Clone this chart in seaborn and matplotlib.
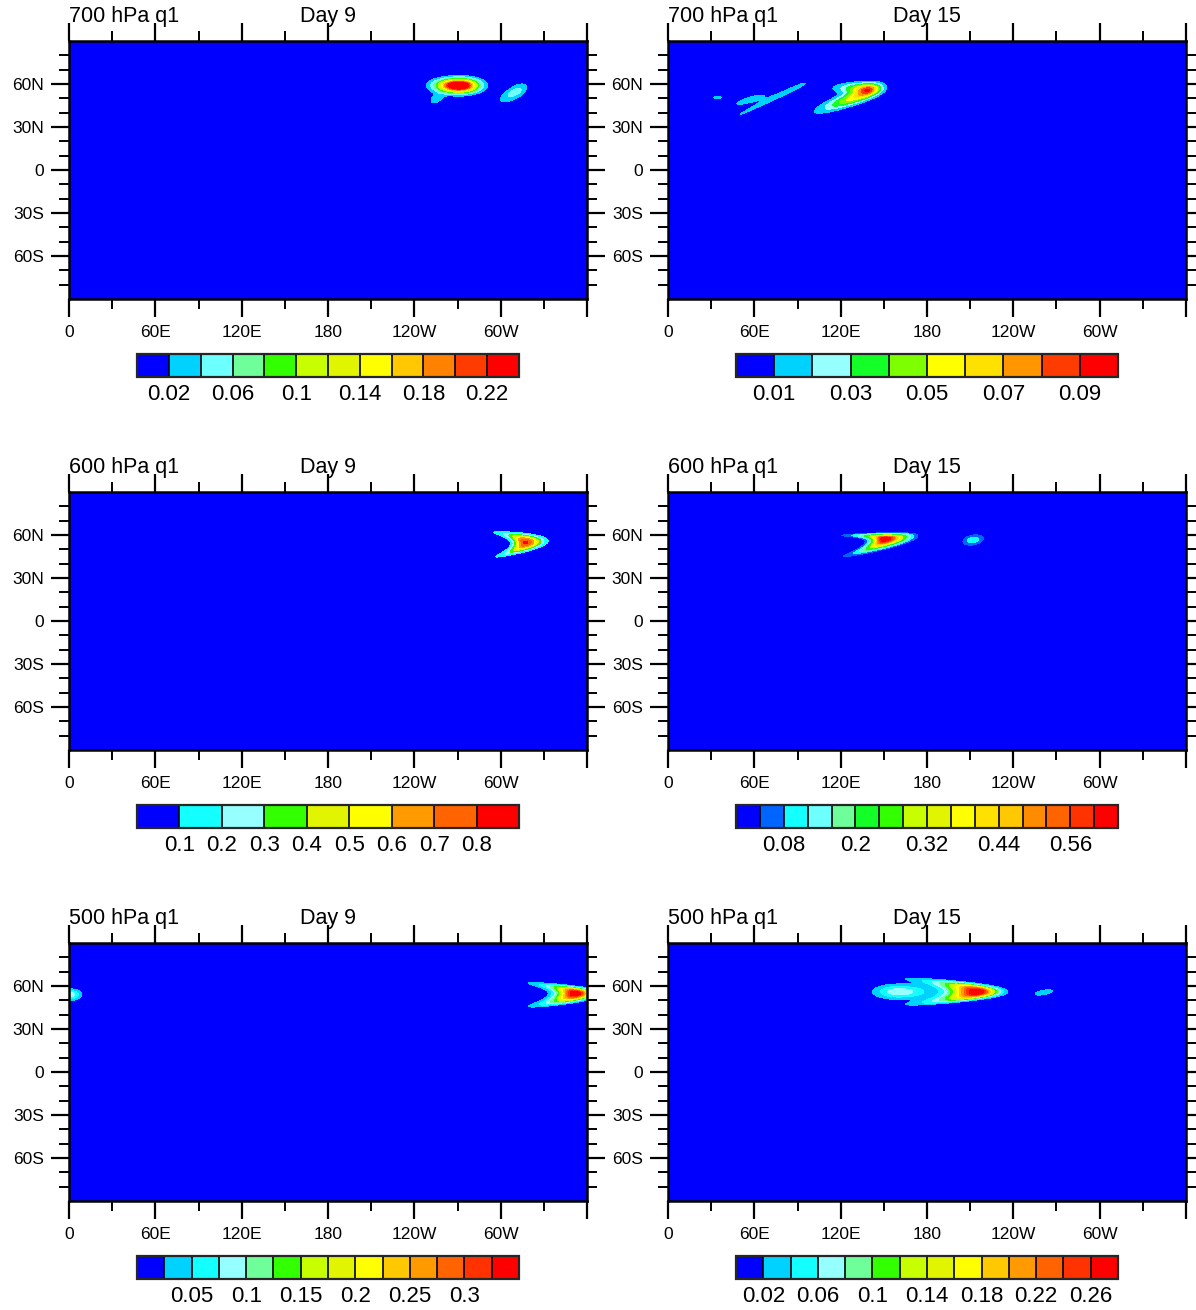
import numpy as np
import matplotlib
matplotlib.use("Agg")
import matplotlib.pyplot as plt
import seaborn as sns

sns.set_theme(style="ticks")
plt.rcParams["font.family"] = ["Liberation Sans", "DejaVu Sans"]
plt.rcParams["text.color"] = "black"
plt.rcParams["axes.labelcolor"] = "black"
plt.rcParams["xtick.color"] = "black"
plt.rcParams["ytick.color"] = "black"

# ---------------------------------------------------------------- data
titles_left = ["700 hPa q1", "700 hPa q1", "600 hPa q1", "600 hPa q1", "500 hPa q1", "500 hPa q1"]
titles_center = ["Day 9", "Day 15", "Day 9", "Day 15", "Day 9", "Day 15"]

# contour boundaries per panel
levels_700_d9 = [0.02, 0.04, 0.06, 0.08, 0.10, 0.12, 0.14, 0.16, 0.18, 0.20, 0.22]
levels_700_d15 = [0.01, 0.02, 0.03, 0.04, 0.05, 0.06, 0.07, 0.08, 0.09]
levels_600_d9 = [0.1, 0.2, 0.3, 0.4, 0.5, 0.6, 0.7, 0.8]
levels_600_d15 = [0.04, 0.08, 0.12, 0.16, 0.20, 0.24, 0.28, 0.32, 0.36, 0.40,
                  0.44, 0.48, 0.52, 0.56, 0.60]
levels_500_d9 = [0.025, 0.05, 0.075, 0.1, 0.125, 0.15, 0.175, 0.2, 0.225, 0.25,
                 0.275, 0.3, 0.325]
levels_500_d15 = [0.02, 0.04, 0.06, 0.08, 0.10, 0.12, 0.14, 0.16, 0.18, 0.20,
                  0.22, 0.24, 0.26]

# labelled colorbar values
cb_labels_700_d9 = ["0.02", "0.06", "0.1", "0.14", "0.18", "0.22"]
cb_labels_700_d15 = ["0.01", "0.03", "0.05", "0.07", "0.09"]
cb_labels_600_d9 = ["0.1", "0.2", "0.3", "0.4", "0.5", "0.6", "0.7", "0.8"]
cb_labels_600_d15 = ["0.08", "0.2", "0.32", "0.44", "0.56"]
cb_labels_500_d9 = ["0.05", "0.1", "0.15", "0.2", "0.25", "0.3"]
cb_labels_500_d15 = ["0.02", "0.06", "0.1", "0.14", "0.18", "0.22", "0.26"]

# fill colours per panel
colors_700_d9 = ["#0000FF", "#00D2FF", "#6EFFFF", "#6EFF9B", "#32FF00", "#C8FF00",
                 "#E1F500", "#FFFF00", "#FFC800", "#FF8200", "#FF3C00", "#FF0000"]
colors_700_d15 = ["#0000FF", "#00D2FF", "#96FFFF", "#14FF28", "#7DFF00", "#FFFF00",
                  "#FFE100", "#FF9600", "#FF3C00", "#FF0000"]
colors_600_d9 = ["#0000FF", "#14FFFF", "#96FFFF", "#32FF00", "#E1F500", "#FFFF00",
                 "#FF9B00", "#FF6400", "#FF0000"]
colors_600_d15 = ["#0000FF", "#0064FF", "#14FFFF", "#6EFFFF", "#6EFF9B", "#14FF28",
                  "#32FF00", "#C8FF00", "#E1F500", "#FFFF00", "#FFE100", "#FFC800",
                  "#FF8C00", "#FF6400", "#FF3200", "#FF0000"]
colors_500_d9 = ["#0000FF", "#00D2FF", "#14FFFF", "#96FFFF", "#6EFF9B", "#32FF00",
                 "#C8FF00", "#E1F500", "#FFFF00", "#FFC800", "#FF9B00", "#FF6400",
                 "#FF3200", "#FF0000"]
colors_500_d15 = list(colors_500_d9)

# tracer patches: lon, lat, peak, west/east spread, south/north spread, tilt (deg), bend
blobs_700_d9 = [
    (271.0, 59.0, 0.30, 9.8, 8.6, 3.2, 3.0, 0.0, 0.0),
    (255.0, 49.5, 0.030, 4.0, 4.5, 2.6, 2.6, 30.0, 0.0),
    (310.5, 54.5, 0.050, 9.0, 6.3, 3.0, 3.0, 30.0, 0.0),
]
blobs_700_d15 = [
    (138.0, 57.0, 0.050, 13.0, 6.5, 2.6, 2.6, 0.0, 0.0),
    (136.0, 53.0, 0.062, 19.0, 7.5, 2.8, 3.0, 20.0, 0.0),
    (59.0, 49.5, 0.015, 13.0, 9.0, 2.0, 2.0, 16.0, 0.0),
    (84.0, 55.0, 0.015, 42.0, 14.0, 1.2, 1.6, 25.5, 0.0),
    (34.4, 50.6, 0.012, 5.2, 5.2, 1.0, 1.0, 0.0, 0.0),
]
blobs_600_d9 = [
    (317.0, 54.8, 0.82, 5.0, 7.8, 4.3, 4.3, 4.0, 4.8),
]
blobs_600_d15 = [
    (150.4, 57.3, 0.66, 5.7, 9.9, 4.0, 2.4, 6.0, 5.0),
    (212.0, 56.5, 0.11, 5.0, 5.0, 2.4, 2.4, 10.0, 0.0),
]
blobs_500_d9 = [
    (352.0, 55.0, 0.36, 8.2, 7.8, 4.2, 3.2, 0.0, 5.6),
    (1.0, 54.0, 0.09, 5.0, 5.0, 2.5, 2.5, 0.0, 0.0),
]
blobs_500_d15 = [
    (215.0, 56.0, 0.29, 12.3, 9.2, 4.0, 4.07, 0.0, 8.2),
    (160.0, 56.0, 0.075, 11.0, 15.0, 3.3, 3.3, 0.0, 0.0),
    (261.0, 55.5, 0.030, 6.7, 6.7, 1.7, 1.7, 10.0, 0.0),
]

lon_ticks = [0, 60, 120, 180, 240, 300]
lon_labels = ["0", "60E", "120E", "180", "120W", "60W"]
lat_ticks = [60, 30, 0, -30, -60]
lat_labels = ["60N", "30N", "0", "30S", "60S"]

# ---------------------------------------------------------------- grid
lon = np.arange(0.0, 360.01, 0.5)
lat = np.arange(-90.0, 90.01, 0.5)
LON, LAT = np.meshgrid(lon, lat)


def patch(p):
    lon0, lat0, amp, sxw, sxe, svs, svn, ang, bend = p
    dlon = LON - lon0
    dlat = LAT - lat0
    t = np.deg2rad(ang)
    u = dlon * np.cos(t) + dlat * np.sin(t)
    v = -dlon * np.sin(t) + dlat * np.cos(t)
    vn = v / np.where(v >= 0, svn, svs)
    u2 = u + bend * vn ** 2
    un = u2 / np.where(u2 < 0, sxw, sxe)
    return amp * np.exp(-0.5 * (un ** 2 + vn ** 2))


def field(blobs):
    out = np.zeros_like(LON)
    for b in blobs:
        out += patch(b)
    return out


panels = [
    (blobs_700_d9, levels_700_d9, colors_700_d9, cb_labels_700_d9),
    (blobs_700_d15, levels_700_d15, colors_700_d15, cb_labels_700_d15),
    (blobs_600_d9, levels_600_d9, colors_600_d9, cb_labels_600_d9),
    (blobs_600_d15, levels_600_d15, colors_600_d15, cb_labels_600_d15),
    (blobs_500_d9, levels_500_d9, colors_500_d9, cb_labels_500_d9),
    (blobs_500_d15, levels_500_d15, colors_500_d15, cb_labels_500_d15),
]

# ---------------------------------------------------------------- figure
W, H = 1196, 1310
fig = plt.figure(figsize=(W / 100, H / 100), dpi=100)
fig.patch.set_facecolor("white")

ax_left = [69, 668]
ax_top = [41, 492, 943]
ax_w, ax_h = 518, 258
cb_left = [137, 736]
cb_top = [354, 805, 1256]
cb_w, cb_h = 382, 23

for i, (blobs, lev, cols, cblab) in enumerate(panels):
    r, c = divmod(i, 2)
    ax = fig.add_axes([ax_left[c] / W, 1 - (ax_top[r] + ax_h) / H, ax_w / W, ax_h / H])
    z = field(blobs)
    bounds = [-1.0] + lev + [100.0]
    cs = ax.contourf(lon, lat, z, levels=bounds, colors=cols)
    ax.set_xlim(0, 360)
    ax.set_ylim(-90, 90)

    ax.set_xticks(lon_ticks + [360])
    ax.set_xticklabels(lon_labels + [""])
    ax.set_xticks(np.arange(30, 360, 60), minor=True)
    ax.set_yticks(lat_ticks)
    ax.set_yticklabels(lat_labels)
    ax.set_yticks([v for v in range(-80, 90, 10) if v % 30 != 0], minor=True)
    ax.tick_params(which="both", direction="out", top=True, right=True,
                   labeltop=False, labelright=False, color="black")
    ax.tick_params(which="major", length=13, width=1.6, labelsize=12.5)
    ax.tick_params(which="minor", length=7, width=1.4)
    ax.tick_params(axis="x", which="major", pad=6)
    ax.tick_params(axis="y", which="major", pad=5)
    for s in ax.spines.values():
        s.set_linewidth(1.8)
        s.set_color("black")
    ax.grid(False)

    ax.set_title(titles_left[i], loc="left", fontsize=15.5, pad=14)
    ax.set_title(titles_center[i], loc="center", fontsize=15.5, pad=14)

    cax = fig.add_axes([cb_left[c] / W, 1 - (cb_top[r] + cb_h) / H, cb_w / W, cb_h / H])
    cb = fig.colorbar(cs, cax=cax, orientation="horizontal", spacing="uniform",
                      drawedges=True)
    tick_vals = [float(s) for s in cblab]
    cb.set_ticks(tick_vals)
    cb.set_ticklabels(cblab)
    cb.ax.tick_params(length=0, labelsize=16, pad=5)
    cb.outline.set_linewidth(1.6)
    cb.dividers.set_linewidth(1.2)
    cb.dividers.set_color("black")

fig.savefig("out.png", dpi=100)
